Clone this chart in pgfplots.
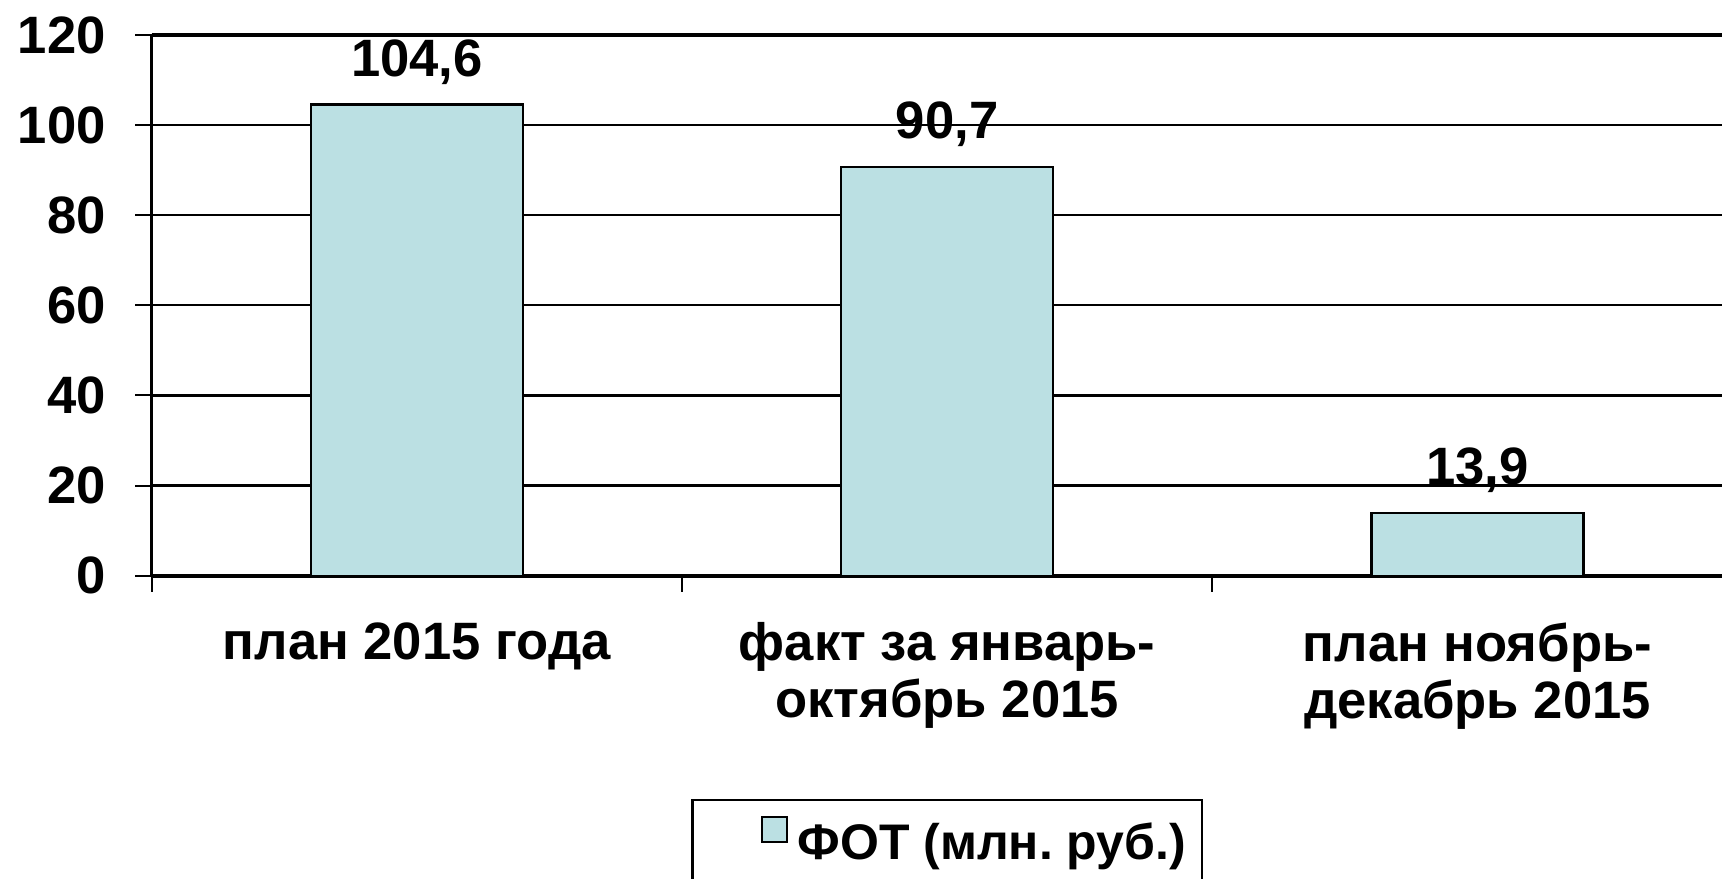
\documentclass[border=0pt]{standalone}
\usepackage{fontspec}
\setmainfont{Liberation Sans}
\usepackage{pgfplots}
\pgfplotsset{compat=1.18}
\definecolor{barfill}{RGB}{187,224,227}
\newcommand{\lbl}{\fontsize{26.3pt}{28.5pt}\selectfont\bfseries}
\frenchspacing

\begin{document}
\begin{tikzpicture}
\path[use as bounding box, clip] (-75.85pt,-151.15pt) rectangle (785.15pt,287.85pt);
\begin{axis}[
  at={(0pt,0pt)}, anchor=south west,
  scale only axis, width=795.45pt, height=270.35pt,
  xmin=-0.5, xmax=2.5, ymin=0, ymax=120,
  ybar, bar width=0.4,
  /pgf/number format/assume math mode=true,
  xtick={0,1,2},
  xticklabels={план 2015 года, {факт за январь-\\октябрь 2015}, {план ноябрь-\\декабрь 2015}},
  every major x tick/.append style={draw=none},
  minor xtick={-0.5,0.5,1.5,2.5},
  ytick={0,20,...,120},
  tick align=outside, tick pos=left,
  major tick length=8.3pt, minor tick length=8pt,
  tick style={black, line width=1pt},
  ymajorgrids, grid style={black, line width=1.1pt},
  separate axis lines,
  x axis line style={line width=1.9pt},
  y axis line style={line width=1.6pt},
  xticklabel style={font=\lbl, align=center, anchor=north, inner sep=0pt, yshift=-15pt},
  yticklabel style={font=\lbl, anchor=east, inner sep=0pt, xshift=-14.5pt},
  nodes near coords={\pgfmathprintnumber[fixed,fixed zerofill,precision=1,use comma]{\pgfplotspointmeta}},
  nodes near coords style={font=\lbl, anchor=south, inner sep=0pt, yshift=9.5pt},
  legend style={at={(0.5,-0.413)}, anchor=north, draw=black, line width=1.2pt,
    inner xsep=8pt, inner ysep=8pt, font=\fontsize{25pt}{27pt}\selectfont\bfseries, nodes={inner sep=0pt},
    /tikz/every odd column/.append style={column sep=5pt}},
  legend image code/.code={\path (-26pt,-16pt); \draw[line width=1pt, fill=barfill, draw=black] (0pt,0.25pt) rectangle (12.5pt,12.75pt);},
]
\addplot[fill=barfill, draw=black, line width=1.2pt] coordinates {(0,104.6) (1,90.7) (2,13.9)};
\addlegendentry{ФОТ (млн. руб.)}
\end{axis}
\end{tikzpicture}
\end{document}
